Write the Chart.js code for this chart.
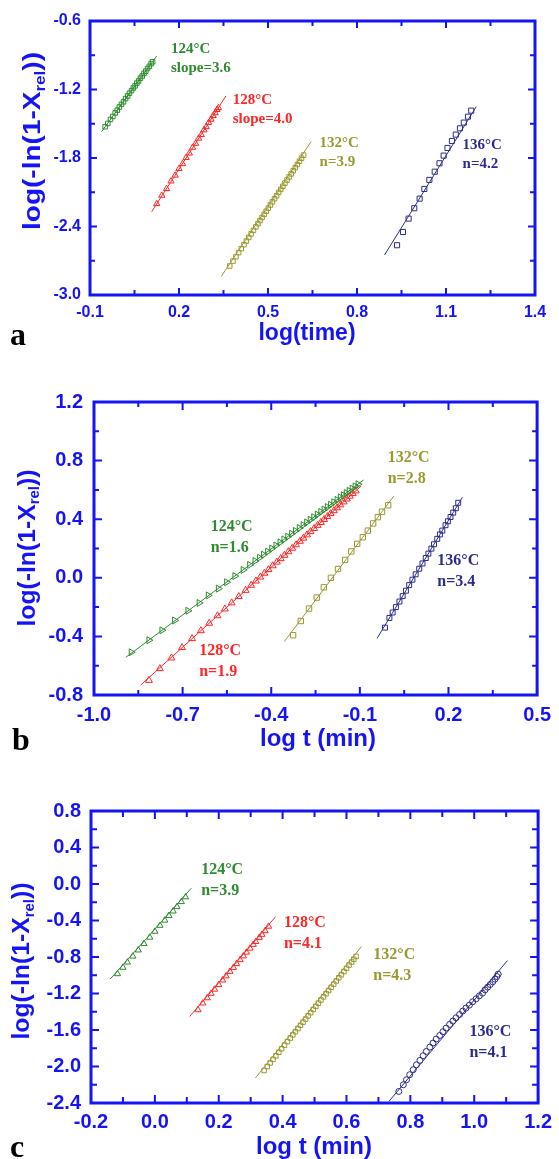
<!DOCTYPE html>
<html>
<head>
<meta charset="utf-8">
<script src="https://cdn.jsdelivr.net/npm/chart.js@4.4.1/dist/chart.umd.min.js"></script>
<style>
  body { margin: 0; background: #fff; }
  #wrap { position: relative; width: 559px; height: 1159px; overflow: hidden; }
  canvas { position: absolute; left: 0; }
</style>
</head>
<body>
<div id="wrap">
  <canvas id="chartA" width="559" height="350" style="top:0px"></canvas>
  <canvas id="chartB" width="559" height="410" style="top:350px"></canvas>
  <canvas id="chartC" width="559" height="399" style="top:760px"></canvas>
</div>
<script>
const TEMPS = ["124\u00b0C", "128\u00b0C", "132\u00b0C", "136\u00b0C"];

// ---- panel a ----
const aXTicks = [-0.1, 0.2, 0.5, 0.8, 1.1, 1.4];
const aYTicks = [-3.0, -2.4, -1.8, -1.2, -0.6];
const aNotes = ["slope=3.6", "slope=4.0", "n=3.9", "n=4.2"];

const a124x = [-0.049, -0.040, -0.031, -0.023, -0.015, -0.008, -0.001, 0.006, 0.013, 0.020, 0.027, 0.033, 0.040, 0.046, 0.052, 0.058, 0.064, 0.070, 0.076, 0.082, 0.088, 0.094, 0.100, 0.106, 0.111];
const a124y = [-1.526, -1.497, -1.462, -1.436, -1.405, -1.381, -1.353, -1.330, -1.308, -1.280, -1.257, -1.232, -1.210, -1.187, -1.168, -1.144, -1.125, -1.101, -1.082, -1.059, -1.040, -1.016, -0.997, -0.973, -0.957];
const a128x = [0.125, 0.142, 0.158, 0.173, 0.187, 0.200, 0.212, 0.224, 0.235, 0.246, 0.256, 0.266, 0.275, 0.284, 0.292, 0.300, 0.308, 0.315, 0.322, 0.328, 0.333];
const a128y = [-2.201, -2.128, -2.069, -2.003, -1.952, -1.894, -1.851, -1.797, -1.758, -1.708, -1.673, -1.628, -1.596, -1.555, -1.527, -1.490, -1.462, -1.430, -1.405, -1.377, -1.360];
const a132x = [0.371, 0.382, 0.392, 0.401, 0.410, 0.419, 0.427, 0.435, 0.443, 0.451, 0.459, 0.466, 0.473, 0.480, 0.487, 0.494, 0.501, 0.508, 0.515, 0.522, 0.529, 0.536, 0.543, 0.550, 0.557, 0.564, 0.571, 0.578, 0.585, 0.592, 0.599, 0.606, 0.613, 0.620];
const a132y = [-2.746, -2.703, -2.664, -2.629, -2.594, -2.559, -2.527, -2.496, -2.465, -2.434, -2.403, -2.375, -2.348, -2.321, -2.293, -2.266, -2.239, -2.212, -2.184, -2.157, -2.130, -2.102, -2.075, -2.048, -2.020, -1.993, -1.966, -1.939, -1.911, -1.884, -1.857, -1.829, -1.802, -1.775];
const a136x = [0.935, 0.955, 0.974, 0.993, 1.011, 1.027, 1.044, 1.062, 1.078, 1.092, 1.105, 1.120, 1.133, 1.147, 1.160, 1.174, 1.185];
const a136y = [-2.564, -2.448, -2.331, -2.240, -2.156, -2.071, -1.992, -1.920, -1.846, -1.779, -1.712, -1.651, -1.595, -1.540, -1.490, -1.438, -1.385];
const aFitX = [[-0.061, 0.125], [0.108, 0.358], [0.342, 0.645], [0.893, 1.202]];
const aFitY = [[-1.569, -0.906], [-2.270, -1.257], [-2.839, -1.657], [-2.649, -1.350]];

// ---- panel b ----
const bXTicks = [-1.0, -0.7, -0.4, -0.1, 0.2, 0.5];
const bYTicks = [-0.8, -0.4, 0.0, 0.4, 0.8, 1.2];
const bNotes = ["n=1.6", "n=1.9", "n=2.8", "n=3.4"];

const b124x = [-0.874, -0.814, -0.770, -0.727, -0.682, -0.644, -0.613, -0.579, -0.551, -0.523, -0.495, -0.473, -0.455, -0.440, -0.426, -0.412, -0.398, -0.384, -0.370, -0.357, -0.344, -0.331, -0.318, -0.305, -0.292, -0.280, -0.268, -0.256, -0.244, -0.232, -0.221, -0.210, -0.199, -0.188, -0.177, -0.166, -0.156, -0.146, -0.136, -0.126, -0.116, -0.106];
const b124y = [-0.508, -0.426, -0.358, -0.291, -0.225, -0.172, -0.120, -0.074, -0.030, 0.012, 0.054, 0.088, 0.115, 0.137, 0.158, 0.179, 0.200, 0.221, 0.242, 0.262, 0.281, 0.301, 0.320, 0.340, 0.360, 0.378, 0.396, 0.414, 0.432, 0.450, 0.466, 0.483, 0.499, 0.516, 0.532, 0.549, 0.564, 0.579, 0.594, 0.609, 0.624, 0.639];
const b128x = [-0.814, -0.777, -0.738, -0.702, -0.668, -0.638, -0.610, -0.582, -0.557, -0.534, -0.510, -0.487, -0.468, -0.452, -0.437, -0.423, -0.409, -0.395, -0.381, -0.368, -0.355, -0.342, -0.329, -0.316, -0.303, -0.291, -0.279, -0.267, -0.255, -0.243, -0.232, -0.221, -0.210, -0.199, -0.188, -0.177, -0.166, -0.155, -0.144, -0.134, -0.124, -0.114];
const b128y = [-0.700, -0.620, -0.547, -0.476, -0.415, -0.361, -0.310, -0.259, -0.213, -0.171, -0.128, -0.086, -0.051, -0.022, 0.005, 0.031, 0.056, 0.082, 0.107, 0.131, 0.154, 0.178, 0.202, 0.225, 0.249, 0.271, 0.293, 0.315, 0.336, 0.358, 0.378, 0.398, 0.418, 0.438, 0.458, 0.478, 0.498, 0.518, 0.538, 0.557, 0.575, 0.593];
const b132x = [-0.326, -0.300, -0.272, -0.246, -0.222, -0.198, -0.174, -0.150, -0.129, -0.109, -0.090, -0.073, -0.055, -0.039, -0.025, -0.004];
const b132y = [-0.392, -0.295, -0.210, -0.135, -0.065, 0.000, 0.060, 0.122, 0.180, 0.232, 0.277, 0.322, 0.371, 0.414, 0.451, 0.495];
const b136x = [-0.015, 0.000, 0.011, 0.022, 0.034, 0.045, 0.056, 0.067, 0.078, 0.089, 0.101, 0.112, 0.123, 0.132, 0.142, 0.151, 0.162, 0.171, 0.179, 0.190, 0.198, 0.207, 0.216, 0.225, 0.233];
const b136y = [-0.340, -0.274, -0.237, -0.200, -0.162, -0.125, -0.088, -0.050, -0.013, 0.024, 0.062, 0.098, 0.135, 0.165, 0.199, 0.229, 0.266, 0.296, 0.322, 0.359, 0.386, 0.415, 0.445, 0.475, 0.512];
const bFitX = [[-0.8925, -0.087], [-0.842, -0.0954], [-0.356, 0.0148], [-0.0417, 0.247]];
const bFitY = [[-0.543, 0.668], [-0.732, 0.627], [-0.436, 0.558], [-0.413, 0.549]];

// ---- panel c ----
const cXTicks = [-0.2, 0.0, 0.2, 0.4, 0.6, 0.8, 1.0, 1.2];
const cYTicks = [-2.4, -2.0, -1.6, -1.2, -0.8, -0.4, 0.0, 0.4, 0.8];
const cNotes = ["n=3.9", "n=4.1", "n=4.3", "n=4.1"];

const c124x = [-0.117, -0.100, -0.086, -0.069, -0.052, -0.034, -0.016, 0.000, 0.016, 0.031, 0.044, 0.057, 0.069, 0.083, 0.096];
const c124y = [-0.985, -0.915, -0.858, -0.792, -0.725, -0.655, -0.585, -0.520, -0.455, -0.398, -0.347, -0.298, -0.250, -0.195, -0.143];
const c128x = [0.135, 0.150, 0.164, 0.176, 0.187, 0.200, 0.212, 0.223, 0.235, 0.246, 0.256, 0.267, 0.277, 0.287, 0.298, 0.308, 0.316, 0.327, 0.335, 0.345, 0.356];
const c128y = [-1.380, -1.306, -1.249, -1.200, -1.155, -1.103, -1.054, -1.009, -0.960, -0.916, -0.875, -0.831, -0.790, -0.749, -0.705, -0.664, -0.632, -0.587, -0.554, -0.514, -0.465];
const c132x = [0.342, 0.352, 0.361, 0.370, 0.379, 0.388, 0.397, 0.406, 0.415, 0.424, 0.432, 0.440, 0.448, 0.456, 0.464, 0.472, 0.480, 0.488, 0.496, 0.504, 0.512, 0.520, 0.528, 0.536, 0.544, 0.552, 0.560, 0.568, 0.576, 0.584, 0.592, 0.600, 0.608, 0.616, 0.623, 0.630];
const c132y = [-2.044, -2.000, -1.961, -1.922, -1.883, -1.844, -1.805, -1.766, -1.727, -1.688, -1.653, -1.618, -1.584, -1.549, -1.514, -1.480, -1.445, -1.410, -1.375, -1.341, -1.306, -1.271, -1.237, -1.202, -1.167, -1.132, -1.098, -1.063, -1.028, -0.994, -0.959, -0.924, -0.889, -0.855, -0.824, -0.794];
const c136x = [0.764, 0.778, 0.788, 0.798, 0.809, 0.819, 0.830, 0.840, 0.850, 0.861, 0.871, 0.881, 0.892, 0.902, 0.912, 0.923, 0.933, 0.943, 0.954, 0.964, 0.974, 0.985, 0.995, 1.006, 1.016, 1.026, 1.034, 1.042, 1.050, 1.058, 1.065, 1.071, 1.075];
const c136y = [-2.273, -2.200, -2.145, -2.090, -2.035, -1.981, -1.933, -1.882, -1.835, -1.787, -1.743, -1.699, -1.660, -1.619, -1.579, -1.539, -1.502, -1.466, -1.430, -1.393, -1.360, -1.327, -1.291, -1.258, -1.225, -1.196, -1.160, -1.130, -1.102, -1.072, -1.043, -1.014, -0.988];
const cFitX = [[-0.14, 0.114], [0.109, 0.3786], [0.315, 0.647], [0.733, 1.104]];
const cFitY = [[-1.042, -0.046], [-1.452, -0.357], [-2.126, -0.685], [-2.382, -0.839]];

// ---- styles ----
const BLUE = "#1414f5";
const COLORS = ["#2e8b2e", "#ff2626", "#999930", "#2c2c8c"];
const SANS = '"Liberation Sans", Arial, sans-serif';
const SERIF = '"Liberation Serif", "Times New Roman", serif';

function pts(xs, ys) {
  return xs.map((v, i) => ({ x: v, y: ys[i] }));
}

function markers(xs, ys, color, style, r, rot) {
  return {
    data: pts(xs, ys),
    showLine: false,
    pointStyle: style,
    pointRadius: r,
    pointRotation: rot || 0,
    pointBorderColor: color,
    pointBackgroundColor: "rgba(0,0,0,0)",
    pointBorderWidth: 1,
  };
}

function fit(xs, ys, color) {
  return {
    data: pts(xs, ys),
    showLine: true,
    borderColor: color,
    borderWidth: 1,
    pointRadius: 0,
    fill: false,
  };
}

function fmt(v) {
  if (Math.abs(v) < 1e-9) v = 0;
  return v.toFixed(1);
}

function frameLayer(p) {
  return {
    id: "frame",
    afterDraw(chart) {
      const { ctx, chartArea: a } = chart;
      const xs = chart.scales.x;
      const ys = chart.scales.y;
      const mids = (v) => v.slice(1).map((t, i) => (t + v[i]) / 2);
      ctx.save();
      ctx.strokeStyle = BLUE;
      ctx.lineWidth = 2;
      const tickX = (vals, len) => {
        vals.forEach((v) => {
          const px = xs.getPixelForValue(v);
          ctx.beginPath();
          ctx.moveTo(px, a.bottom);
          ctx.lineTo(px, a.bottom - len);
          ctx.moveTo(px, a.top);
          ctx.lineTo(px, a.top + len);
          ctx.stroke();
        });
      };
      const tickY = (vals, len) => {
        vals.forEach((v) => {
          const py = ys.getPixelForValue(v);
          ctx.beginPath();
          ctx.moveTo(a.left, py);
          ctx.lineTo(a.left + len, py);
          ctx.moveTo(a.right, py);
          ctx.lineTo(a.right - len, py);
          ctx.stroke();
        });
      };
      tickX(p.xTicks, p.major);
      tickX(mids(p.xTicks), p.minor);
      tickY(p.yTicks, p.major);
      tickY(mids(p.yTicks), p.minor);
      ctx.lineWidth = 3;
      ctx.strokeRect(a.left, a.top, a.right - a.left, a.bottom - a.top);
      ctx.restore();
    },
  };
}

function notesLayer(p) {
  return {
    id: "notes",
    afterDraw(chart) {
      const ctx = chart.ctx;
      const xs = chart.scales.x;
      const ys = chart.scales.y;
      ctx.save();
      // series labels
      ctx.textAlign = "left";
      ctx.textBaseline = "middle";
      ctx.font = "bold " + p.noteSize + "px " + SERIF;
      p.notePos.forEach((pos, i) => {
        ctx.fillStyle = COLORS[i];
        const px = xs.getPixelForValue(pos[0]);
        const py = ys.getPixelForValue(pos[1]);
        ctx.fillText(TEMPS[i], px, py);
        ctx.fillText(p.notes[i], px, py + p.noteGap);
      });
      // x title
      ctx.fillStyle = BLUE;
      ctx.textAlign = "center";
      ctx.font = "bold " + p.xTitle.size + "px " + SANS;
      ctx.fillText(p.xTitle.text, p.xTitle.cx, p.xTitle.cy - p.top);
      // y title with subscript
      const S = p.yTitle.size;
      const big = "bold " + S + "px " + SANS;
      const small = "bold " + Math.round(S * 0.62) + "px " + SANS;
      ctx.font = big;
      const w1 = ctx.measureText("log(-ln(1-X").width;
      const w3 = ctx.measureText("))").width;
      ctx.font = small;
      const w2 = ctx.measureText("rel").width;
      const total = w1 + w2 + w3;
      const k = p.yTitle.len / total;
      ctx.translate(p.yTitle.cx, p.yTitle.cy - p.top);
      ctx.rotate(-Math.PI / 2);
      ctx.scale(k, 1);
      ctx.textAlign = "left";
      let x0 = -total / 2;
      ctx.font = big;
      ctx.fillText("log(-ln(1-X", x0, 0);
      ctx.font = small;
      ctx.fillText("rel", x0 + w1, S * 0.3);
      ctx.font = big;
      ctx.fillText("))", x0 + w1 + w2, 0);
      ctx.setTransform(1, 0, 0, 1, 0, 0);
      // panel letter
      ctx.fillStyle = "#000";
      ctx.textBaseline = "alphabetic";
      ctx.font = "bold 32px " + SERIF;
      ctx.fillText(p.letter, p.letterX, p.letterY - p.top);
      ctx.restore();
    },
  };
}

function makePanel(id, p) {
  const yW = 60;
  const tickFont = { family: SANS, size: p.tickSize, weight: "bold" };
  new Chart(document.getElementById(id), {
    type: "scatter",
    data: { datasets: p.datasets },
    options: {
      responsive: false,
      animation: false,
      devicePixelRatio: 1,
      events: [],
      layout: {
        padding: {
          left: p.frame.left - yW,
          right: 559 - p.frame.right,
          top: p.frame.top - p.top,
          bottom: 0,
        },
      },
      plugins: { legend: { display: false }, tooltip: { enabled: false } },
      scales: {
        x: {
          type: "linear",
          min: p.xTicks[0],
          max: p.xTicks[p.xTicks.length - 1],
          afterBuildTicks: (s) => {
            s.ticks = p.xTicks.map((v) => ({ value: v }));
          },
          afterFit: (s) => {
            s.height = p.height - (p.frame.bottom - p.top);
          },
          grid: { display: false, drawTicks: false },
          border: { display: false },
          ticks: {
            color: BLUE,
            font: tickFont,
            padding: p.xPad,
            maxRotation: 0,
            autoSkip: false,
            callback: (v) => fmt(v),
          },
        },
        y: {
          type: "linear",
          min: p.yTicks[0],
          max: p.yTicks[p.yTicks.length - 1],
          afterBuildTicks: (s) => {
            s.ticks = p.yTicks.map((v) => ({ value: v }));
          },
          afterFit: (s) => {
            s.width = yW;
          },
          grid: { display: false, drawTicks: false },
          border: { display: false },
          ticks: {
            color: BLUE,
            font: tickFont,
            padding: p.yPad,
            autoSkip: false,
            callback: (v) => fmt(v),
          },
        },
      },
    },
    plugins: [frameLayer(p), notesLayer(p)],
  });
}

function series(fx, fy, sets) {
  const out = [];
  sets.forEach((s, i) => out.push(fit(fx[i], fy[i], COLORS[i])));
  sets.forEach((s, i) => out.push(markers(s[0], s[1], COLORS[i], s[2], s[3], s[4])));
  return out;
}

makePanel("chartA", {
  top: 0, height: 350,
  frame: { left: 90, right: 535, top: 21, bottom: 295 },
  xTicks: aXTicks, yTicks: aYTicks,
  tickSize: 16, xPad: 8, yPad: 9, major: 7, minor: 5,
  notes: aNotes, noteSize: 15, noteGap: 19,
  notePos: [[0.173, -0.845], [0.381, -1.292], [0.674, -1.668], [1.156, -1.686]],
  xTitle: { text: "log(time)", size: 23, cx: 307, cy: 334 },
  yTitle: { size: 23, cx: 34, cy: 141, len: 178 },
  letter: "a", letterX: 10, letterY: 345,
  datasets: series(aFitX, aFitY, [
    [a124x, a124y, "rect", 3.2],
    [a128x, a128y, "triangle", 3.6],
    [a132x, a132y, "rect", 3.2],
    [a136x, a136y, "rect", 3.6],
  ]),
});

makePanel("chartB", {
  top: 350, height: 410,
  frame: { left: 94, right: 541, top: 402, bottom: 695 },
  xTicks: bXTicks, yTicks: bYTicks,
  tickSize: 20, xPad: 8, yPad: 11, major: 8, minor: 5,
  notes: bNotes, noteSize: 16, noteGap: 21,
  notePos: [[-0.605, 0.349], [-0.644, -0.498], [-0.006, 0.816], [0.162, 0.117]],
  xTitle: { text: "log t (min)", size: 24, cx: 318, cy: 739 },
  yTitle: { size: 23, cx: 28.5, cy: 548, len: 157 },
  letter: "b", letterX: 12, letterY: 750,
  datasets: series(bFitX, bFitY, [
    [b124x, b124y, "triangle", 4, 90],
    [b128x, b128y, "triangle", 4],
    [b132x, b132y, "rect", 3.8],
    [b136x, b136y, "rect", 3.5],
  ]),
});

makePanel("chartC", {
  top: 760, height: 399,
  frame: { left: 91, right: 541, top: 811, bottom: 1103 },
  xTicks: cXTicks, yTicks: cYTicks,
  tickSize: 20, xPad: 7, yPad: 10, major: 8, minor: 6,
  notes: cNotes, noteSize: 16, noteGap: 21,
  notePos: [[0.145, 0.154], [0.404, -0.423], [0.684, -0.776], [0.985, -1.616]],
  xTitle: { text: "log t (min)", size: 24, cx: 314, cy: 1147 },
  yTitle: { size: 23, cx: 23, cy: 961, len: 157 },
  letter: "c", letterX: 10, letterY: 1157,
  datasets: series(cFitX, cFitY, [
    [c124x, c124y, "triangle", 3.6],
    [c128x, c128y, "triangle", 3.6],
    [c132x, c132y, "rect", 3.2],
    [c136x, c136y, "circle", 3],
  ]),
});
</script>
</body>
</html>
